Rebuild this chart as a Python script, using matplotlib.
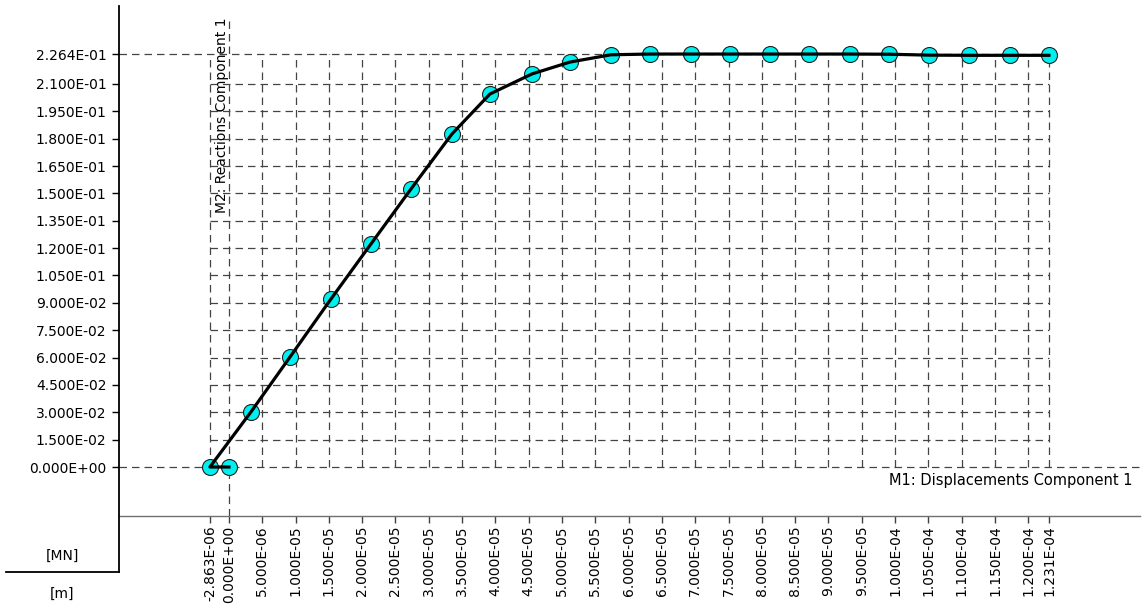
import numpy as np
import matplotlib
matplotlib.use('Agg')
from matplotlib import pyplot as plt
from matplotlib.lines import Line2D

# M1: Displacements Component 1 [m]
disp = [0.0, -2.863e-06, 3.30e-06, 9.16e-06, 1.531e-05, 2.132e-05, 2.732e-05,
        3.348e-05, 3.918e-05, 4.549e-05, 5.119e-05, 5.735e-05, 6.32e-05,
        6.94e-05, 7.52e-05, 8.12e-05, 8.71e-05, 9.32e-05, 9.91e-05,
        1.051e-04, 1.111e-04, 1.172e-04, 1.231e-04]
# M2: Reactions Component 1 [MN]
react = [0.0, 0.0, 0.0302, 0.0603, 0.0921, 0.1223, 0.1524, 0.1826, 0.2045,
         0.2155, 0.2220, 0.2260, 0.2264, 0.2264, 0.2264, 0.2264, 0.2264,
         0.2264, 0.2263, 0.2258, 0.2257, 0.2257, 0.2257]

x_ticks = [-2.863e-06, 0.0, 5e-06, 1e-05, 1.5e-05, 2e-05, 2.5e-05, 3e-05,
           3.5e-05, 4e-05, 4.5e-05, 5e-05, 5.5e-05, 6e-05, 6.5e-05, 7e-05,
           7.5e-05, 8e-05, 8.5e-05, 9e-05, 9.5e-05, 1e-04, 1.05e-04,
           1.1e-04, 1.15e-04, 1.2e-04, 1.231e-04]
y_ticks = [0.0, 0.015, 0.03, 0.045, 0.06, 0.075, 0.09, 0.105, 0.12, 0.135,
           0.15, 0.165, 0.18, 0.195, 0.21, 0.2264]

W, H = 1142, 613
plt.rcParams['font.family'] = ['DejaVu Sans']
fig = plt.figure(figsize=(W / 100, H / 100), dpi=100)
ax = fig.add_axes([119 / W, 1 - 516 / H, (1140 - 119) / W, (516 - 6) / H])

xmin, xmax = x_ticks[0], x_ticks[-1]
ymin, ymax = y_ticks[0], y_ticks[-1]
ax.set_xlim(-1.651e-05, 1.3677e-04)
ax.set_ylim(-0.02686, 0.25274)

# grid
gkw = dict(color='#444444', lw=0.9, dashes=(6, 4), zorder=1)
for xv in x_ticks:
    if xv == 0:
        ax.plot([0, 0], [ax.get_ylim()[0], 0.2462], **gkw)
    else:
        ax.plot([xv, xv], [ymin, ymax], **gkw)
for yv in y_ticks:
    if yv == 0:
        ax.plot(ax.get_xlim(), [0, 0], **gkw)
    elif yv == ymax:
        ax.plot([ax.get_xlim()[0], xmax], [yv, yv], **gkw)
    else:
        ax.plot([xmin, xmax], [yv, yv], **gkw)

# data
ax.plot(disp, react, 'o', ms=11.5, mfc='#00f0f0', mec='#202020', mew=0.8,
        zorder=3)
ax.plot(disp, react, '-', color='black', lw=2.3, zorder=4)

# axes styling
for s in ['top', 'right']:
    ax.spines[s].set_visible(False)
ax.spines['left'].set_visible(False)
ax.spines['bottom'].set_color('#707070')
ax.spines['bottom'].set_linewidth(1.0)

ax.set_xticks(x_ticks)
ax.set_xticklabels(['%.3E' % v for v in x_ticks], rotation=90, fontsize=10)
ax.set_yticks(y_ticks)
ax.set_yticklabels(['%.3E' % v for v in y_ticks], fontsize=10)
ax.tick_params(axis='x', direction='out', length=5, width=1, color='#404040',
               pad=2)
ax.tick_params(axis='y', direction='out', length=5, width=1, color='black',
               pad=4)

# left axis line extending below plot and the unit separator
fig.add_artist(Line2D([119 / W, 119 / W], [1 - 6 / H, 1 - 572 / H],
                      color='black', lw=1.3))
fig.add_artist(Line2D([6 / W, 119 / W], [1 - 572 / H, 1 - 572 / H],
                      color='black', lw=1.3))
fig.text(62 / W, 1 - 556 / H, '[MN]', ha='center', va='center', fontsize=10)
fig.text(62 / W, 1 - 594 / H, '[m]', ha='center', va='center', fontsize=10)

# axis titles
ax.text(0, 0.2462, 'M2: Reactions Component 1', rotation=90, ha='right',
        va='top', fontsize=10, zorder=5)
ax.text(1.3560e-04, -0.0035, 'M1: Displacements Component 1', ha='right',
        va='top', fontsize=10.5, zorder=5)

plt.savefig('out.png', dpi=100)
